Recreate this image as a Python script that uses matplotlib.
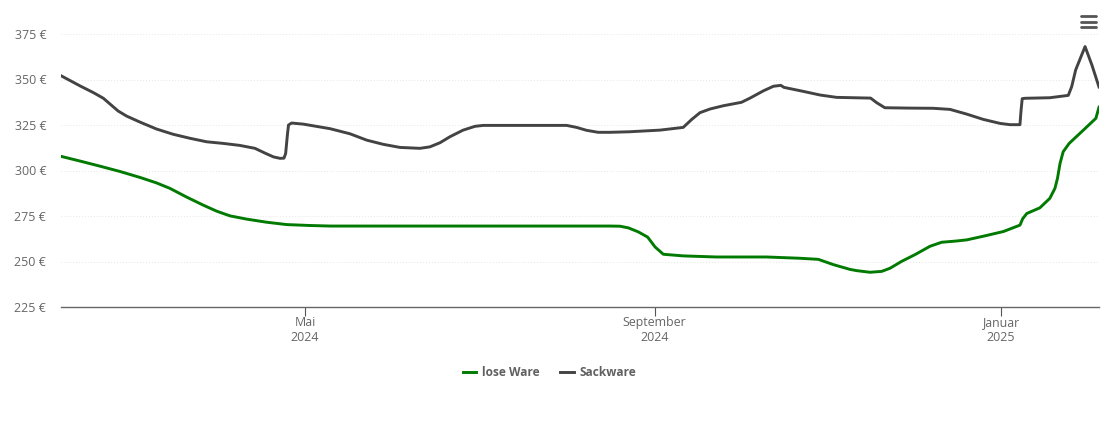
#!/usr/bin/env python
# -*- coding: utf-8 -*-
import pandas as pd
import matplotlib
matplotlib.use('Agg')
import matplotlib.pyplot as plt
from matplotlib.lines import Line2D
from matplotlib.transforms import ScaledTranslation

start = pd.Timestamp('2024-02-05')
end = pd.Timestamp('2025-02-04')

# Tage seit start / Preis in Euro
sack_tage = [0, 6.7, 11.4, 14.9, 17.2, 20.1, 23.1, 27.8, 33.6, 39.5, 45.4, 51.2, 57.1, 62.9, 68.2,
             71.7, 74.7, 77, 78.4, 79, 79.6, 80, 81.1, 85.2, 94.6, 101.6, 107.5, 113.3, 119.2,
             126.2, 129.7, 133.3, 136.8, 141.4, 145.6, 148.5, 177.8, 181.3, 184.8, 188.9, 193,
             199.8, 210.6, 218.8, 221.8, 224.7, 228.2, 232.9, 239.3, 242.3, 247, 250.5, 253.1,
             254.2, 261, 266.9, 272.7, 284.7, 286.8, 289.7, 298.5, 306.7, 312.6, 318.5, 324.3,
             330.2, 333.7, 337.2, 337.6, 338, 339, 347.7, 354.2, 355.4, 356.8, 360.1, 362.5, 365]
sack_preis = [352.3, 346.7, 343, 339.9, 336.8, 332.9, 330.1, 326.8, 323, 320.1, 317.9, 316, 315.1,
              314, 312.4, 309.8, 307.7, 306.9, 307, 309.6, 319.7, 325.2, 326.3, 325.7, 323.2,
              320.4, 316.9, 314.6, 312.9, 312.4, 313.2, 315.5, 318.8, 322.4, 324.5, 325, 325,
              323.9, 322.3, 321.2, 321.2, 321.5, 322.4, 323.9, 328.3, 332, 334, 335.8, 337.7, 340,
              344, 346.5, 347, 345.9, 343.7, 341.7, 340.4, 340, 337.5, 334.7, 334.5, 334.4, 333.8,
              331.2, 328.3, 326.1, 325.4, 325.4, 333.4, 339.7, 339.9, 340.2, 341.5, 346.3, 355.5,
              368.3, 358.2, 346.1]

lose_tage = [0, 6.7, 13.7, 20.7, 27.8, 33.6, 38.3, 44.2, 50, 54.7, 59.4, 65.3, 72.3, 79.4, 87.6,
             94.6, 193, 196.6, 199.5, 203, 206.3, 208.9, 211.8, 218.8, 230.5, 248.1, 259.8, 266.3,
             271.6, 277.4, 279.8, 284.5, 288.6, 291.5, 295.6, 300.3, 305.6, 309.7, 315, 318.5,
             324.3, 331.4, 337.2, 338.2, 339.6, 344.2, 347.7, 349.5, 350.4, 351.3, 352.4, 354.5,
             359.5, 363.9, 365]
lose_preis = [308, 305.4, 302.6, 299.7, 296.4, 293.4, 290.4, 285.6, 281.2, 277.9, 275.3, 273.5,
              271.8, 270.5, 270, 269.7, 269.7, 269.6, 268.7, 266.5, 263.6, 258.2, 254.2, 253.3,
              252.7, 252.7, 252, 251.4, 248.5, 245.9, 245.2, 244.3, 244.8, 246.5, 250.3, 254,
              258.6, 260.8, 261.5, 262.1, 264.1, 266.7, 270.2, 273.8, 276.6, 279.7, 284.9, 290.4,
              295.9, 304.1, 310.5, 315.1, 322.4, 328.9, 335]

y_ticks = [225, 250, 275, 300, 325, 350, 375]
x_tick_tage = [85.8, 208.7, 330.4]
x_labels = ['Mai\n2024', 'September\n2024', 'Januar\n2025']


def to_dates(tage):
    return start + pd.to_timedelta(tage, unit='D')


plt.rcParams['font.family'] = ['Open Sans', 'DejaVu Sans']
fig = plt.figure(figsize=(11.1, 4.22), dpi=100)
ax = fig.add_axes([61 / 1110, 1 - 307.4 / 422, 1038 / 1110, 273 / 422])

ax.plot(to_dates(lose_tage), lose_preis, color='#007a00', lw=2.1, solid_joinstyle='round', label='lose Ware')
ax.plot(to_dates(sack_tage), sack_preis, color='#434343', lw=2.1, solid_joinstyle='round', label='Sackware')

ax.set_xlim(start, end)
ax.set_ylim(225, 375)
ax.set_yticks(y_ticks)
ax.set_yticklabels(['%d €' % v for v in y_ticks])
ax.set_xticks(to_dates(x_tick_tage))
ax.set_xticklabels(x_labels)

ax.grid(axis='y', color='#e6e6e6', lw=0.7, ls=(0, (1, 2)))
ax.set_axisbelow(True)
for s in ['top', 'left', 'right']:
    ax.spines[s].set_visible(False)
ax.spines['bottom'].set_color('#666666')
ax.spines['bottom'].set_linewidth(1)
ax.tick_params(axis='y', length=0, pad=10.7, labelsize=8.9, labelcolor='#666666')
ax.tick_params(axis='x', length=6.5, width=0.8, color='#555555', pad=0, labelsize=8.9, labelcolor='#666666')

# y-Beschriftung sitzt knapp ueber der Gitterlinie
hoch = ScaledTranslation(0, 0.8 / 100, fig.dpi_scale_trans)
for lab in ax.get_yticklabels():
    lab.set_transform(lab.get_transform() + hoch)

leg = ax.legend(loc='center', bbox_to_anchor=(549.5 / 1110, 1 - 372.5 / 422), bbox_transform=fig.transFigure,
                ncol=2, frameon=False, handlelength=1.15, handletextpad=0.5, columnspacing=1.67,
                prop={'family': ['Open Sans', 'DejaVu Sans'], 'size': 8.6, 'weight': 'bold'})
for t in leg.get_texts():
    t.set_color('#606060')

# Menue-Symbol oben rechts
for py in [16, 21.5, 26.5]:
    fig.add_artist(Line2D([1081 / 1110, 1096 / 1110], [1 - py / 422, 1 - py / 422], color='#555555',
                          lw=2, solid_capstyle='round'))

fig.savefig('out.png', dpi=100)
